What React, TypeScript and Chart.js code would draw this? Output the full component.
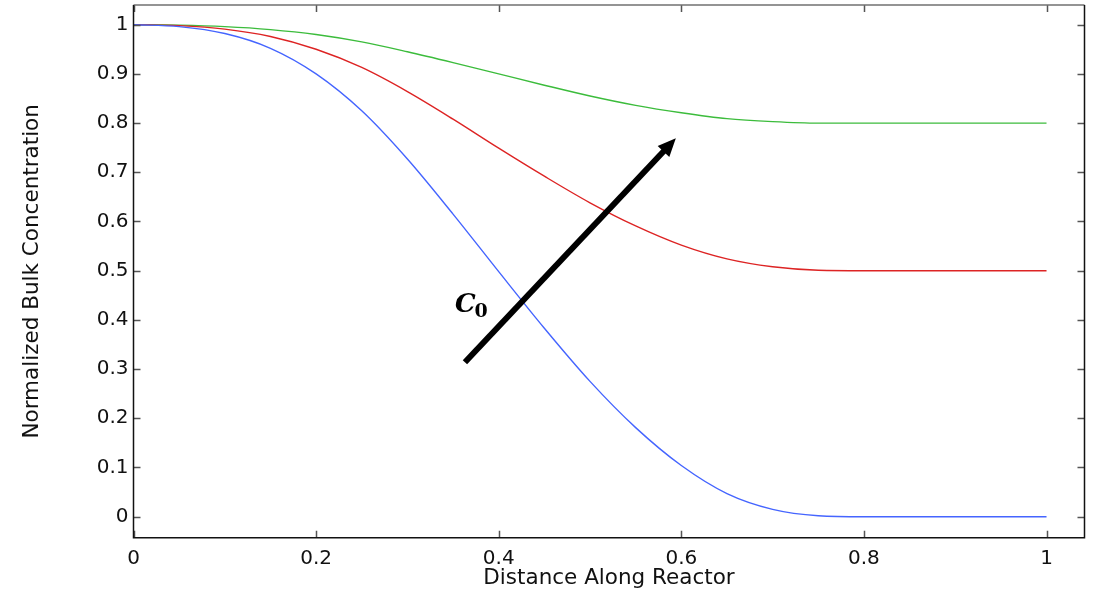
import { useEffect, useRef } from "react";
import { Chart, registerables } from "chart.js";

Chart.register(...registerables);

// Position along the reactor (normalized)
const distance = [
  0, 0.05, 0.1, 0.15, 0.2, 0.25, 0.3, 0.35, 0.4, 0.45, 0.5,
  0.55, 0.6, 0.65, 0.7, 0.75, 0.8, 0.85, 0.9, 0.95, 1,
];

// Normalized bulk concentration for three inlet concentrations C0
const concentrationLow = [
  1.0, 0.996, 0.982, 0.952, 0.9, 0.825, 0.727, 0.615, 0.498, 0.383, 0.275,
  0.181, 0.104, 0.047, 0.015, 0.002, 0.0, 0.0, 0.0, 0.0, 0.0,
];
const concentrationMid = [
  1.0, 0.998, 0.991, 0.976, 0.95, 0.913, 0.864, 0.808, 0.749, 0.692, 0.638,
  0.591, 0.552, 0.524, 0.508, 0.501, 0.5, 0.5, 0.5, 0.5, 0.5,
];
const concentrationHigh = [
  1.0, 0.999, 0.996, 0.99, 0.98, 0.965, 0.945, 0.923, 0.9, 0.877, 0.855,
  0.836, 0.821, 0.809, 0.803, 0.8, 0.8, 0.8, 0.8, 0.8, 0.8,
];

const seriesColors = ["#4565ff", "#dd2424", "#3cbc3c"];

const xTickValues = [0, 0.2, 0.4, 0.6, 0.8, 1];
const yTickValues = [0, 0.1, 0.2, 0.3, 0.4, 0.5, 0.6, 0.7, 0.8, 0.9, 1];

// "increasing C0" arrow, in data coordinates [distance, concentration]
const arrowTail = [0.363, 0.314];
const arrowTip = [0.594, 0.769];
const arrowLabelAt = [0.352, 0.417];

const toPoints = (ys: number[]) => distance.map((x, i) => ({ x, y: ys[i] }));

const fmt = (v: number) => {
  const r = Math.round(v * 10) / 10;
  return r === 0 ? "0" : r === 1 ? "1" : r.toFixed(1);
};

const framePlugin = {
  id: "frameAndArrow",
  afterDraw(chart: any) {
    const { ctx, chartArea, scales } = chart;
    const { left, right, top, bottom } = chartArea;
    const xs = scales.x;
    const ys = scales.y;
    ctx.save();

    // inward tick marks on all four sides
    const tl = 7;
    ctx.strokeStyle = "#555";
    ctx.lineWidth = 1.5;
    ctx.beginPath();
    yTickValues.forEach((v) => {
      const py = Math.round(ys.getPixelForValue(v)) + 0.5;
      ctx.moveTo(left, py);
      ctx.lineTo(left + tl, py);
      ctx.moveTo(right, py);
      ctx.lineTo(right - tl, py);
    });
    xTickValues.forEach((v) => {
      const px = Math.round(xs.getPixelForValue(v)) + 0.5;
      ctx.moveTo(px, bottom);
      ctx.lineTo(px, bottom - tl);
      ctx.moveTo(px, top);
      ctx.lineTo(px, top + tl);
    });
    ctx.stroke();

    // frame
    ctx.lineWidth = 1.5;
    ctx.strokeStyle = "#707070";
    ctx.beginPath();
    ctx.moveTo(left, top);
    ctx.lineTo(right, top);
    ctx.stroke();
    ctx.strokeStyle = "#111";
    ctx.beginPath();
    ctx.moveTo(left, top);
    ctx.lineTo(left, bottom);
    ctx.lineTo(right, bottom);
    ctx.lineTo(right, top);
    ctx.stroke();

    // arrow
    const x0 = xs.getPixelForValue(arrowTail[0]);
    const y0 = ys.getPixelForValue(arrowTail[1]);
    const x1 = xs.getPixelForValue(arrowTip[0]);
    const y1 = ys.getPixelForValue(arrowTip[1]);
    const ang = Math.atan2(y1 - y0, x1 - x0);
    const headLen = 18;
    const headHalf = 8;
    const bx = x1 - headLen * Math.cos(ang);
    const by = y1 - headLen * Math.sin(ang);
    ctx.strokeStyle = "#000";
    ctx.fillStyle = "#000";
    ctx.lineWidth = 6;
    ctx.lineCap = "butt";
    ctx.beginPath();
    ctx.moveTo(x0, y0);
    ctx.lineTo(bx + 2 * Math.cos(ang), by + 2 * Math.sin(ang));
    ctx.stroke();
    ctx.beginPath();
    ctx.moveTo(x1, y1);
    ctx.lineTo(bx + headHalf * Math.sin(ang), by - headHalf * Math.cos(ang));
    ctx.lineTo(bx - headHalf * Math.sin(ang), by + headHalf * Math.cos(ang));
    ctx.closePath();
    ctx.fill();

    // C0 label
    const lx = xs.getPixelForValue(arrowLabelAt[0]);
    const ly = ys.getPixelForValue(arrowLabelAt[1]);
    ctx.textBaseline = "alphabetic";
    ctx.textAlign = "left";
    ctx.font = "italic bold 26px 'DejaVu Serif', serif";
    ctx.fillText("C", lx, ly);
    const cw = ctx.measureText("C").width;
    ctx.font = "bold 19px 'DejaVu Serif', serif";
    ctx.fillText("0", lx + cw - 1, ly + 5);

    ctx.restore();
  },
};

export default function App() {
  const canvasRef = useRef<HTMLCanvasElement | null>(null);

  useEffect(() => {
    document.body.style.margin = "0";
    const canvas = canvasRef.current;
    if (!canvas) return;
    const tickFont = { family: "'DejaVu Sans', sans-serif", size: 20 };
    const titleFont = { family: "'DejaVu Sans', sans-serif", size: 21.5 };

    const chart = new Chart(canvas, {
      type: "line",
      data: {
        datasets: [concentrationLow, concentrationMid, concentrationHigh].map((ys, i) => ({
          data: toPoints(ys),
          borderColor: seriesColors[i],
          borderWidth: 1.4,
          pointRadius: 0,
          fill: false,
          cubicInterpolationMode: "monotone" as const,
        })),
      },
      options: {
        responsive: false,
        animation: false,
        events: [],
        layout: { padding: { top: 5, right: 9.5, left: 0, bottom: 0 } },
        plugins: { legend: { display: false }, tooltip: { enabled: false } },
        scales: {
          x: {
            type: "linear",
            min: 0,
            max: 1.0416,
            grid: { display: false, drawTicks: false },
            border: { display: false },
            afterBuildTicks: (s: any) => {
              s.ticks = xTickValues.map((value) => ({ value }));
            },
            afterFit: (s: any) => {
              s.height = 54.3;
              s.paddingLeft = 0;
              s.paddingRight = 0;
            },
            ticks: {
              font: tickFont,
              color: "#111",
              padding: 9,
              maxRotation: 0,
              callback: (v: any) => fmt(Number(v)),
            },
            title: {
              display: true,
              text: "Distance Along Reactor",
              font: titleFont,
              color: "#111",
              padding: { top: 0, bottom: 1 },
            },
          },
          y: {
            type: "linear",
            min: -0.0427,
            max: 1.04,
            grid: { display: false, drawTicks: false },
            border: { display: false },
            afterBuildTicks: (s: any) => {
              s.ticks = yTickValues.map((value) => ({ value }));
            },
            afterFit: (s: any) => {
              s.width = 133.5;
              s.paddingTop = 0;
              s.paddingBottom = 0;
            },
            ticks: {
              font: tickFont,
              color: "#111",
              padding: 5,
              callback: (v: any) => fmt(Number(v)),
            },
            title: {
              display: true,
              text: "Normalized Bulk Concentration",
              font: titleFont,
              color: "#111",
              padding: { top: 20, bottom: 0 },
            },
          },
        },
      },
      plugins: [framePlugin],
    });
    return () => chart.destroy();
  }, []);

  return (
    <div style={{ position: "absolute", left: 0, top: 0, width: 1094, height: 592, background: "#fff" }}>
      <canvas ref={canvasRef} width={1094} height={592} />
    </div>
  );
}
